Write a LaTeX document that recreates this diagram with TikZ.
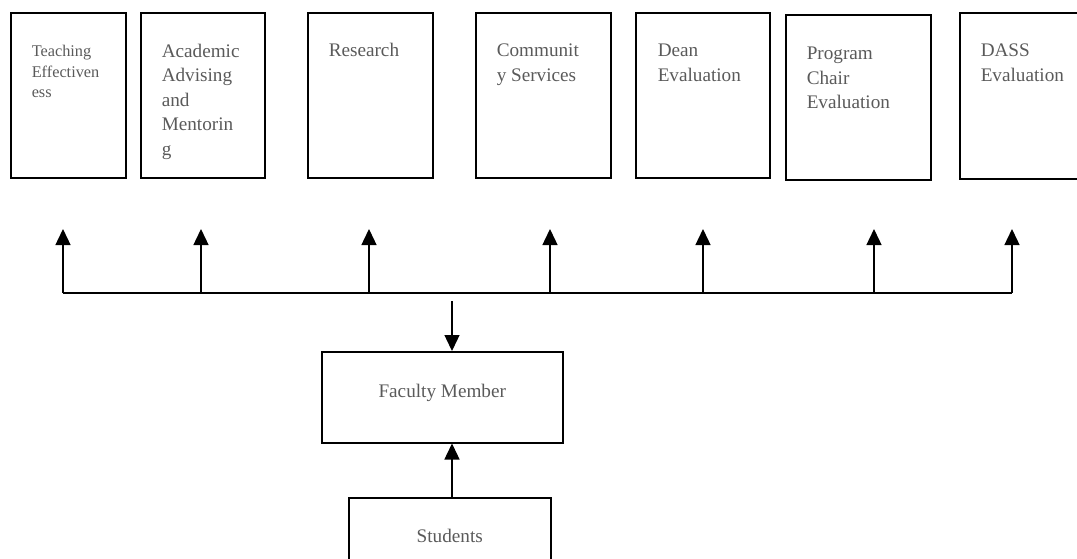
\documentclass[tikz,border=0pt]{standalone}
\usepackage{fontspec}
\setmainfont{Liberation Serif}
\usetikzlibrary{arrows.meta}
\definecolor{txtgray}{RGB}{90,90,90}
% height, width, top gap, lines
\newcommand{\boxlines}[4]{\parbox[c][#1][t]{#2}{\raggedright\vspace*{#3}\strut #4}}
\newcommand{\boxcentre}[4]{\parbox[c][#1][t]{#2}{\centering\vspace*{#3}\strut #4}}

\begin{document}
\begin{tikzpicture}[x=1pt,y=-1pt,
    card/.style={draw, line width=1.5pt, anchor=north west, inner xsep=21pt, inner ysep=0pt,
      text=txtgray, font=\fontsize{19.2}{24.5}\selectfont},
    link/.style={line width=1.4pt, -{Triangle[width=15pt,length=16pt]}}]
  \path[use as bounding box, clip] (0,0) rectangle (1077,558);

  % top row
  \node[card, font=\fontsize{16.3}{20.5}\selectfont] (teach) at (10,12)
    {\boxlines{165pt}{73pt}{29.6pt}{Teaching\\Effectiven\\ess}};
  \node[card] (advise) at (140,12) {\boxlines{165pt}{82pt}{27.4pt}{Academic\\Advising\\and\\Mentorin\\g}};
  \node[card] (research) at (307,12) {\boxlines{165pt}{83pt}{27pt}{Research}};
  \node[card] (community) at (475,12) {\boxlines{165pt}{93pt}{27pt}{Communit\\y Services}};
  \node[card, inner xsep=22pt] (dean) at (635,12) {\boxlines{165pt}{90pt}{27pt}{Dean\\Evaluation}};
  \node[card] (chair) at (785,14) {\boxlines{165pt}{103pt}{27.8pt}{Program\\Chair\\Evaluation}};
  \node[card] (dass) at (959,12) {\boxlines{166pt}{98pt}{27pt}{DASS\\Evaluation}};

  % bus with arrows up
  \foreach \x/\n in {63/1,201/2,369/3,550/4,703/5,874/6,1012/7} {
    \coordinate (bus\n) at (\x,293);
    \coordinate (tip\n) at (\x,229);
    \draw[link] (bus\n) -- (tip\n);
  }
  \draw[line width=1.4pt] (bus1) -- (bus7);

  % bottom part
  \node[card, inner xsep=20pt] (faculty) at (321,351) {\boxcentre{91pt}{201pt}{28.8pt}{Faculty Member}};
  \node[card, inner xsep=20pt] (students) at (348,497) {\boxcentre{90pt}{162pt}{27.8pt}{Students}};

  \coordinate (drop) at (452,301);
  \draw[link] (drop) -- (faculty.north -| drop);
  \draw[link] (students.north -| drop) -- (faculty.south -| drop);
\end{tikzpicture}
\end{document}
